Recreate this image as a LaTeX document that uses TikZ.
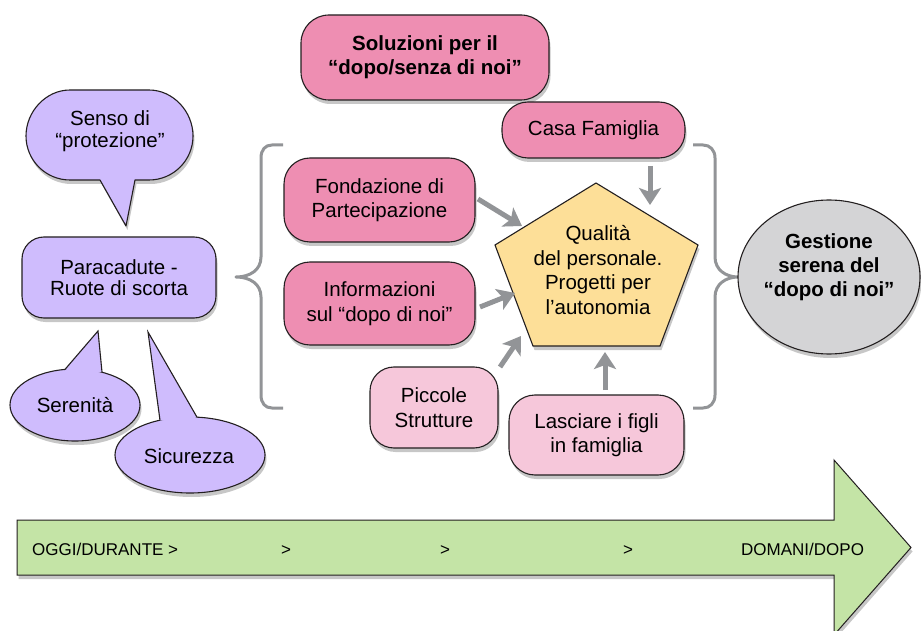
\documentclass[tikz,border=0pt]{standalone}
\usepackage{fontspec}
\setmainfont{Liberation Sans}
\usetikzlibrary{arrows.meta,shadows,shapes.geometric}
\definecolor{lav}{HTML}{CFBCFD}
\definecolor{pinkD}{HTML}{EE8EB2}
\definecolor{pinkL}{HTML}{F6C7DA}
\definecolor{pentac}{HTML}{FDDF98}
\definecolor{gestc}{HTML}{D4D4D6}
\definecolor{arrowg}{HTML}{C4E4A6}
\definecolor{conn}{HTML}{929497}
\definecolor{edgec}{HTML}{231F20}
\begin{document}
\begin{tikzpicture}[x=1pt,y=-1pt,
  shad/.style={drop shadow={shadow xshift=1.5pt,shadow yshift=-4pt,opacity=0.22,fill=black}},
  outl/.style={draw=edgec,line width=1.1pt},
  txt/.style={font=\fontsize{20.5}{24.5}\selectfont,align=center,inner sep=0pt},
  btxt/.style={font=\fontsize{20.5}{24}\selectfont\bfseries,align=center,inner sep=0pt},
  ptxt/.style={font=\fontsize{20.5}{21.5}\selectfont,align=center,inner sep=0pt},
  atxt/.style={font=\fontsize{17}{20}\selectfont,inner sep=0pt},
  rbox/.style={outl,shad,align=center,inner sep=0pt},
  garrow/.style={draw=conn,line width=5pt,-{Stealth[length=17pt,width=22pt,inset=4pt]}},
  bracestyle/.style={draw=conn,line width=3pt,line join=round}
]
\clip (0,0) rectangle (921,631);
\fill[white] (0,0) rectangle (921,631);

% big timeline arrow
\draw[outl,line width=1pt,shad,fill=arrowg] (17,520) -- (834,520) -- (834,460) -- (911,547.5) -- (834,635) -- (834,575) -- (17,575) -- cycle;
\node[atxt,anchor=base west] (oggi) at (32,555) {OGGI/DURANTE >};
\node[atxt,anchor=base] (gt1) at (286,555) {>};
\node[atxt,anchor=base] (gt2) at (445,555) {>};
\node[atxt,anchor=base] (gt3) at (628,555) {>};
\node[atxt,anchor=base west] (domani) at (741,555) {DOMANI/DOPO};

% braces
\draw[bracestyle] (283,145) -- (272,145) .. controls (265,145) and (261,150) .. (261,158) -- (261,257) .. controls (261,270) and (250,277) .. (236,277) .. controls (250,277) and (261,284) .. (261,297) -- (261,395) .. controls (261,403) and (265,408) .. (272,408) -- (283,408);
\draw[bracestyle] (693,145) -- (703,145) .. controls (710,145) and (715,150) .. (715,158) -- (715,257) .. controls (715,270) and (726,277) .. (738,277) .. controls (726,277) and (715,284) .. (715,297) -- (715,395) .. controls (715,403) and (710,408) .. (703,408) -- (693,408);

% purple balloons
\draw[outl,shad,fill=lav,line join=round] (100,180) -- (70,180) .. controls (45.7,180) and (26,160.3) .. (26,136) .. controls (26,111.7) and (45.7,90) .. (70,90) -- (149,90) .. controls (173.3,90) and (193,111.7) .. (193,136) .. controls (193,160.3) and (173.3,180) .. (149,180) -- (135,180) -- (126,226) -- cycle;
\node[ptxt] (senso) at (110,131) {Senso di\\“protezione”};

\draw[outl,shad,fill=lav] (75,405) ellipse [x radius=65,y radius=36];
\fill[lav] (98,331) -- (65,369.4) -- (84,374) -- (102,372) -- cycle;
\draw[outl] (65,369.4) -- (98,331) -- (102,372);
\node[ptxt] (seren) at (75,405) {Serenità};

\draw[outl,shad,fill=lav] (190,455) ellipse [x radius=75,y radius=38];
\fill[lav] (148,332) -- (160,420.2) -- (180,423) -- (197,417.2) -- cycle;
\draw[outl] (160,420.2) -- (148,332) -- (197,417.2);
\node[ptxt] (sicur) at (189,456) {Sicurezza};

\node[rbox,fill=lav,ptxt,minimum width=194pt,minimum height=81pt,rounded corners=22pt] (para) at (119,277.5) {Paracadute -\\Ruote di scorta};

% pink boxes
\node[rbox,fill=pinkD,btxt,minimum width=248pt,minimum height=85pt,rounded corners=28pt] (title) at (425,57.5) {Soluzioni per il\\“dopo/senza di noi”};
\node[rbox,fill=pinkD,txt,minimum width=183pt,minimum height=56pt,rounded corners=26pt] (casa) at (593.5,130) {Casa Famiglia};
\node[rbox,fill=pinkD,txt,minimum width=191pt,minimum height=84pt,rounded corners=26pt] (fond) at (379.5,200) {Fondazione di\\Partecipazione};
\node[rbox,fill=pinkD,txt,minimum width=191pt,minimum height=83pt,rounded corners=26pt] (info) at (379.5,303.5) {Informazioni\\sul “dopo di noi”};
\node[rbox,fill=pinkL,txt,minimum width=128pt,minimum height=81pt,rounded corners=24pt] (picc) at (434,407.5) {Piccole\\Strutture};
\node[rbox,fill=pinkL,txt,minimum width=175pt,minimum height=80pt,rounded corners=26pt] (lasc) at (596.5,435) {Lasciare i figli\\in famiglia};

% pentagon
\draw[outl,shad,fill=pentac] (596,183) coordinate (pT) -- (698,245) coordinate (pR) -- (660,346) coordinate (pBR) -- (533,346) coordinate (pBL) -- (495,245) coordinate (pL) -- cycle;
\node[txt] (qual) at (598,270) {Qualità\\del personale.\\Progetti per\\l’autonomia};

% gestione
\node[ellipse,outl,shad,fill=gestc,minimum width=182pt,minimum height=154pt,inner sep=0pt] (gest) at (829,277) {};
\node[btxt] (gesttxt) at (829,267) {Gestione\\serena del\\“dopo di noi”};

% gray arrows
\coordinate (c1s) at (650,166);
\coordinate (c1e) at (650,205);
\coordinate (c2s) at (478,199);
\coordinate (c2e) at (522,226);
\coordinate (c3s) at (480,307);
\coordinate (c3e) at (515,293);
\coordinate (c4s) at (500,367);
\coordinate (c4e) at (521,336);
\coordinate (c5s) at (605,390);
\coordinate (c5e) at (605,352);
\draw[garrow] (c1s) -- (c1e);
\draw[garrow] (c2s) -- (c2e);
\draw[garrow] (c3s) -- (c3e);
\draw[garrow] (c4s) -- (c4e);
\draw[garrow] (c5s) -- (c5e);
\end{tikzpicture}
\end{document}
